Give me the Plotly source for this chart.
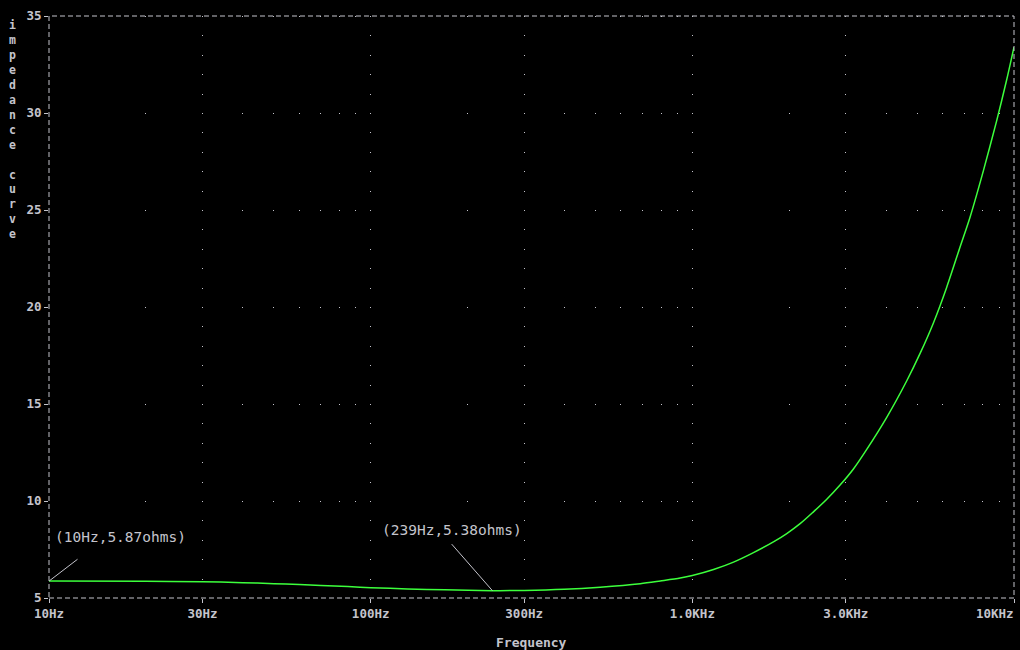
import math
import plotly.graph_objects as go

# ---- data ----
freq_hz = [10, 20, 30, 40, 50, 60, 70, 85, 100, 130, 170, 239, 300, 400, 517,
           689, 795, 917, 1000, 1164, 1343, 1549, 1787, 1966, 2163, 2379, 2618,
           2879, 3168, 3485, 4017, 4642, 5110, 5617, 6175, 6793, 7300, 8034,
           8836, 9486, 10000]
impedance_ohms = [5.87, 5.86, 5.84, 5.79, 5.74, 5.69, 5.64, 5.59, 5.53, 5.47, 5.42,
                  5.38, 5.39, 5.45, 5.56,
                  5.74, 5.88, 6.03, 6.16, 6.47, 6.85, 7.34, 7.89, 8.32, 8.83, 9.44, 10.09,
                  10.82, 11.65, 12.66, 14.30, 16.20, 17.62, 19.18, 21.01, 23.08, 24.63, 27.03,
                  29.61, 31.7, 33.4]

x_tickvals = [10, 30, 100, 300, 1000, 3000, 10000]
x_ticktext = ["10Hz", "30Hz", "100Hz", "300Hz", "1.0KHz", "3.0KHz", "10KHz"]
y_tickvals = [5, 10, 15, 20, 25, 30, 35]

marker_points = [(10, 5.87, "(10Hz,5.87ohms)"), (239, 5.38, "(239Hz,5.38ohms)")]

y_title = "impedance curve"
x_title = "Frequency"

# ---- styling ----
GRAY = "#c4c4cc"
GREEN = "#3cff3c"
MONO = "DejaVu Sans Mono"
TICKFONT = dict(family=MONO, size=12.5, color=GRAY, weight="bold")

W, H = 1020, 650
ML, MR, MT, MB = 49, 6, 16, 52
plot_h = H - MT - MB
unit_px = plot_h / (y_tickvals[-1] - y_tickvals[0])

minor_x = [m * 10 ** d for d in range(1, 4) for m in range(2, 10) if m != 3]

# the last label sits right-aligned at the axis end (drawn as an annotation)
tick_labels = list(x_ticktext[:-1]) + [""]

fig = go.Figure()
fig.add_trace(go.Scatter(
    x=freq_hz, y=impedance_ohms, mode="lines",
    line=dict(color=GREEN, width=1.5, shape="spline", smoothing=0.8),
    hoverinfo="skip", showlegend=False,
))

annotations = []
offsets = [
    dict(ax=30, ay=-23, xshift=4, yshift=44, xanchor="left"),
    dict(ax=-42, ay=-48, xshift=-40, yshift=61, xanchor="center"),
]
for (fx, fy, label), o in zip(marker_points, offsets):
    annotations.append(dict(
        x=math.log10(fx), y=fy, xref="x", yref="y", text="",
        showarrow=True, arrowhead=0, arrowwidth=1, arrowcolor=GRAY,
        ax=o["ax"], ay=o["ay"], standoff=0,
    ))
    annotations.append(dict(
        x=math.log10(fx), y=fy, xref="x", yref="y", text=label,
        showarrow=False, xshift=o["xshift"], yshift=o["yshift"],
        xanchor=o["xanchor"], yanchor="middle",
        font=dict(family=MONO, size=14.5, color=GRAY),
    ))

annotations.append(dict(
    x=1.0, y=-0.0258, xref="paper", yref="paper", xanchor="right", yanchor="middle",
    text=x_ticktext[-1], showarrow=False, font=TICKFONT, xshift=2,
))
annotations.append(dict(
    x=-0.038, y=1.0, xref="paper", yref="paper", xanchor="center", yanchor="top",
    text="<br>".join(ch if ch != " " else "&nbsp;" for ch in y_title),
    showarrow=False, font=dict(family=MONO, size=11.5, color=GRAY, weight="bold"),
))
annotations.append(dict(
    x=0.5, y=-0.076, xref="paper", yref="paper", xanchor="center", yanchor="middle",
    text=x_title, showarrow=False,
    font=dict(family=MONO, size=13, color=GRAY, weight="bold"),
))

fig.update_layout(
    width=W, height=H,
    margin=dict(l=ML, r=MR, t=MT, b=MB, autoexpand=False),
    paper_bgcolor="black", plot_bgcolor="black",
    annotations=annotations,
    shapes=[dict(type="rect", xref="paper", yref="paper", x0=0, x1=1, y0=0, y1=1,
                 line=dict(color=GRAY, width=1, dash="5px,3px"), layer="above")],
)
fig.update_xaxes(
    type="log", range=[math.log10(x_tickvals[0]), math.log10(x_tickvals[-1])],
    tickmode="array", tickvals=x_tickvals, ticktext=tick_labels,
    ticks="outside", ticklen=4, tickcolor=GRAY, automargin=False,
    tickfont=TICKFONT,
    showgrid=True, gridcolor=GRAY, gridwidth=1,
    griddash="1px,%.3fpx" % (unit_px - 1),
    minor=dict(tickmode="array", tickvals=minor_x, showgrid=True, gridcolor=GRAY,
               gridwidth=1, griddash="1px,%.3fpx" % (5 * unit_px - 1), ticks=""),
    showline=False, zeroline=False,
)
fig.update_yaxes(
    range=[y_tickvals[0], y_tickvals[-1]], tickmode="array", tickvals=y_tickvals,
    ticks="outside", ticklen=4, tickcolor=GRAY, automargin=False,
    tickfont=TICKFONT,
    showgrid=False, showline=False, zeroline=False,
)

fig.write_html(
    "out.html",
    config={"displayModeBar": False},
    post_script="document.body.style.margin='0';document.body.style.background='black';",
)
